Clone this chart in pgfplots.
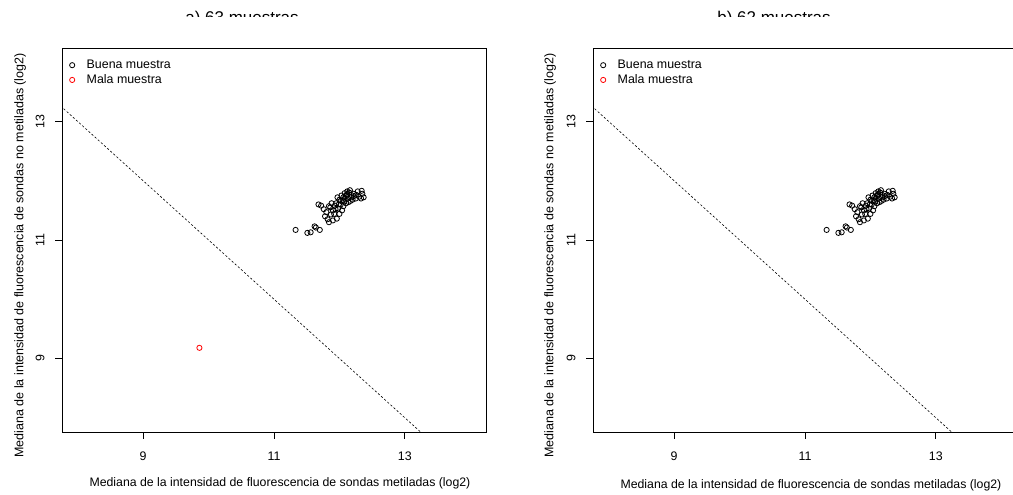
\documentclass[border=0pt]{standalone}
\usepackage{pgfplots}
\usepackage{pgfplotstable}
\pgfplotsset{compat=1.18}
\usepackage{fontspec}
\setmainfont{Liberation Sans}

\pgfplotstableread{
x y
11.33 11.17
11.51 11.12
11.56 11.13
11.62 11.23
11.64 11.21
11.70 11.17
11.68 11.60
11.72 11.58
11.76 11.52
11.80 11.47
11.78 11.40
11.82 11.35
11.84 11.30
11.90 11.33
11.96 11.36
12.00 11.44
11.86 11.55
11.90 11.50
11.93 11.58
11.95 11.62
11.98 11.53
12.02 11.60
12.05 11.66
12.08 11.70
12.10 11.74
12.12 11.78
12.15 11.80
12.18 11.76
12.22 11.78
12.28 11.82
12.34 11.83
12.35 11.78
12.37 11.72
12.30 11.73
12.25 11.70
12.20 11.68
12.14 11.64
12.06 11.57
12.00 11.68
11.97 11.72
12.03 11.75
12.08 11.79
12.12 11.82
12.16 11.84
12.10 11.62
12.04 11.50
11.88 11.62
11.84 11.57
11.92 11.44
12.13 11.70
12.18 11.72
12.06 11.72
12.02 11.66
11.99 11.60
12.22 11.74
12.26 11.76
12.33 11.70
12.11 11.76
12.07 11.65
11.94 11.52
11.87 11.43
12.17 11.66
}\goodtable

\pgfplotstableread{
x y
9.86 9.18
}\badtable

\pgfplotsset{
  myaxis/.style={
    scale only axis,
    width=424bp, height=384bp,
    xmin=7.76, xmax=14.24, ymin=7.76, ymax=14.24,
    xtick={9,11,13}, ytick={9,11,13},
    tick pos=left, tick align=outside,
    major tick length=7bp,
    axis line style={line width=0.9bp},
    every tick/.style={black, line width=0.9bp},
    /pgf/number format/assume math mode=true,
    tick label style={font=\fontsize{12.4bp}{14bp}\selectfont},
    xticklabel style={anchor=center, yshift=-17bp},
    yticklabel style={rotate=90, anchor=center, yshift=15bp},
    legend style={draw=none, fill=none, at={(axis description cs:0,1)}, anchor=north west,
      inner xsep=3bp, inner ysep=10.5bp, row sep=1.5bp,
      font=\fontsize{12.4bp}{14bp}\selectfont,
      nodes={inner sep=1.5bp}},
    legend cell align=left,
    legend image code/.code={\path[draw=none,fill=none] (0bp,0bp) (20bp,0bp); \draw[mark repeat=2,mark phase=2,#1] plot coordinates {(0bp,0bp) (7bp,0bp) (14bp,0bp)};},
    clip=true,
  },
  ptgood/.style={only marks, mark=o, black, mark size=2.6bp, mark options={line width=0.8bp}},
  ptbad/.style={only marks, mark=o, red, mark size=2.6bp, mark options={line width=0.8bp}},
  diagline/.style={black, line width=0.6bp, dash pattern=on 2.2bp off 2bp},
}

\begin{document}
\begin{tikzpicture}[x=1bp,y=1bp]
\useasboundingbox (0,0) rectangle (1013,495);

\begin{axis}[myaxis, at={(62bp,63bp)}, anchor=south west,
  xlabel={Mediana de la intensidad de fluorescencia de sondas metiladas (log2)},
  ylabel={Mediana de la intensidad de fluorescencia de sondas no metiladas (log2)},
  xlabel style={at={(axis description cs:0.514,-0.133)}, anchor=center, font=\fontsize{12.3bp}{14bp}\selectfont},
  ylabel style={at={(axis description cs:-0.099,0.46)}, anchor=center, font=\fontsize{12.5bp}{14bp}\selectfont},
]
\addplot[ptgood] table {\goodtable};
\addlegendentry{Buena muestra}
\addplot[ptbad] table {\badtable};
\addlegendentry{Mala muestra}
\addplot[diagline, forget plot] coordinates {(6.5,14.5) (14.5,6.5)};
\end{axis}

\begin{axis}[myaxis, at={(593bp,63bp)}, anchor=south west,
  xlabel={Mediana de la intensidad de fluorescencia de sondas metiladas (log2)},
  ylabel={Mediana de la intensidad de fluorescencia de sondas no metiladas (log2)},
  xlabel style={at={(axis description cs:0.514,-0.138)}, anchor=center, font=\fontsize{12.3bp}{14bp}\selectfont},
  ylabel style={at={(axis description cs:-0.1014,0.46)}, anchor=center, font=\fontsize{12.5bp}{14bp}\selectfont},
]
\addplot[ptgood] table {\goodtable};
\addlegendentry{Buena muestra}
\addlegendimage{ptbad}
\addlegendentry{Mala muestra}
\addplot[diagline, forget plot] coordinates {(6.5,14.5) (14.5,6.5)};
\end{axis}

\begin{scope}
\clip (0,478) rectangle (1013,495);
\node[font=\fontsize{17bp}{20bp}\selectfont, anchor=base] at (242,471) {a) 63 muestras};
\node[font=\fontsize{17bp}{20bp}\selectfont, anchor=base] at (774,471) {b) 62 muestras};
\end{scope}
\end{tikzpicture}
\end{document}
